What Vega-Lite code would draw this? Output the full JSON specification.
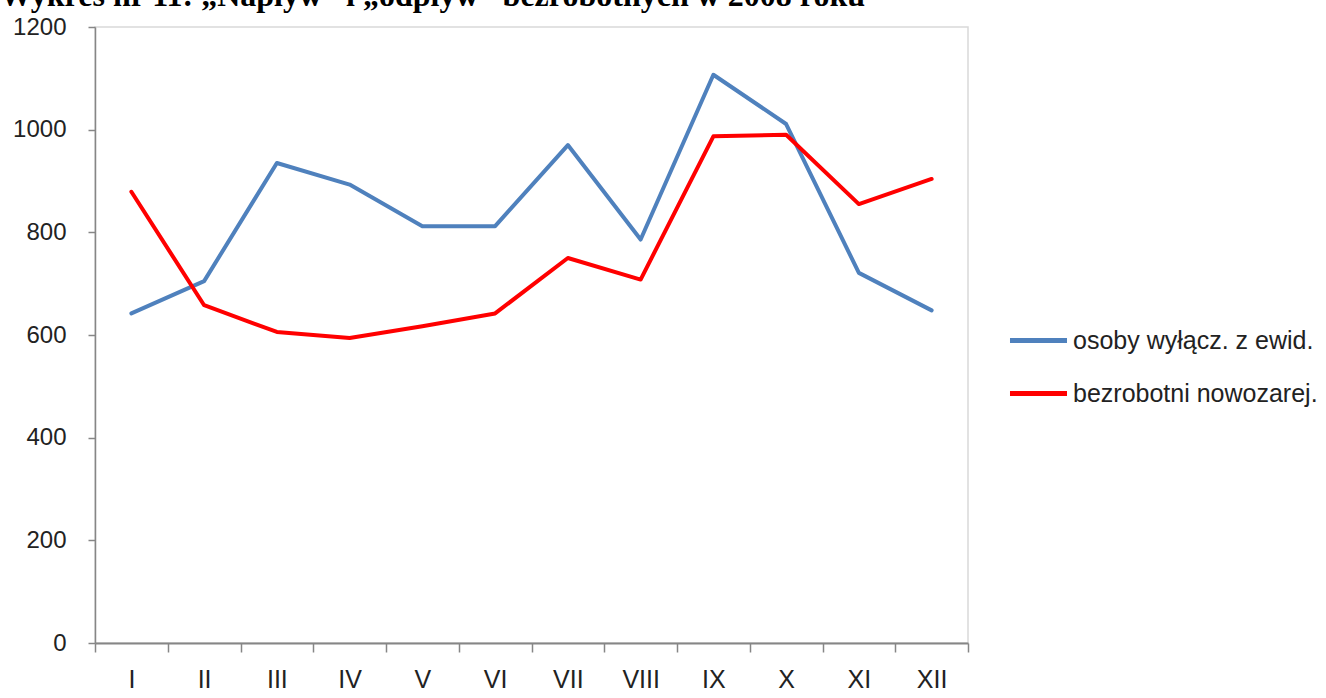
{
  "$schema": "https://vega.github.io/schema/vega-lite/v6.json",
  "autosize": {"type": "none"},
  "width": 873,
  "height": 616,
  "padding": {"left": 95, "top": 27, "right": 358, "bottom": 55},
  "background": "white",
  "title": {
    "text": "Wykres nr 11: „Napływ” i „odpływ” bezrobotnych w 2008 roku",
    "anchor": "start",
    "frame": "group",
    "dx": -95,
    "offset": 0,
    "dy": 23,
    "baseline": "alphabetic",
    "font": "Liberation Serif",
    "fontSize": 32,
    "fontWeight": "bold",
    "color": "black"
  },
  "data": {
    "values": [
      {"miesiac": "I", "seria": "osoby wyłącz. z ewid.", "wartosc": 642},
      {"miesiac": "II", "seria": "osoby wyłącz. z ewid.", "wartosc": 705},
      {"miesiac": "III", "seria": "osoby wyłącz. z ewid.", "wartosc": 935},
      {"miesiac": "IV", "seria": "osoby wyłącz. z ewid.", "wartosc": 893},
      {"miesiac": "V", "seria": "osoby wyłącz. z ewid.", "wartosc": 812},
      {"miesiac": "VI", "seria": "osoby wyłącz. z ewid.", "wartosc": 812},
      {"miesiac": "VII", "seria": "osoby wyłącz. z ewid.", "wartosc": 970},
      {"miesiac": "VIII", "seria": "osoby wyłącz. z ewid.", "wartosc": 786},
      {"miesiac": "IX", "seria": "osoby wyłącz. z ewid.", "wartosc": 1107},
      {"miesiac": "X", "seria": "osoby wyłącz. z ewid.", "wartosc": 1011},
      {"miesiac": "XI", "seria": "osoby wyłącz. z ewid.", "wartosc": 721},
      {"miesiac": "XII", "seria": "osoby wyłącz. z ewid.", "wartosc": 648},
      {"miesiac": "I", "seria": "bezrobotni nowozarej.", "wartosc": 879},
      {"miesiac": "II", "seria": "bezrobotni nowozarej.", "wartosc": 658},
      {"miesiac": "III", "seria": "bezrobotni nowozarej.", "wartosc": 606},
      {"miesiac": "IV", "seria": "bezrobotni nowozarej.", "wartosc": 594},
      {"miesiac": "V", "seria": "bezrobotni nowozarej.", "wartosc": 617},
      {"miesiac": "VI", "seria": "bezrobotni nowozarej.", "wartosc": 642},
      {"miesiac": "VII", "seria": "bezrobotni nowozarej.", "wartosc": 750},
      {"miesiac": "VIII", "seria": "bezrobotni nowozarej.", "wartosc": 708},
      {"miesiac": "IX", "seria": "bezrobotni nowozarej.", "wartosc": 987},
      {"miesiac": "X", "seria": "bezrobotni nowozarej.", "wartosc": 990},
      {"miesiac": "XI", "seria": "bezrobotni nowozarej.", "wartosc": 855},
      {"miesiac": "XII", "seria": "bezrobotni nowozarej.", "wartosc": 904}
    ]
  },
  "mark": {"type": "line", "strokeWidth": 4, "strokeJoin": "round", "strokeCap": "round"},
  "encoding": {
    "x": {
      "field": "miesiac",
      "type": "ordinal",
      "sort": ["I", "II", "III", "IV", "V", "VI", "VII", "VIII", "IX", "X", "XI", "XII"],
      "bandPosition": 0.5,
      "scale": {"type": "band", "paddingInner": 0, "paddingOuter": 0},
      "axis": {
        "title": null,
        "labelAngle": 0,
        "tickBand": "extent",
        "tickExtra": true,
        "tickSize": 9,
        "tickColor": "#868686",
        "tickWidth": 1.5,
        "domainColor": "#868686",
        "domainWidth": 2,
        "labelFont": "Liberation Sans",
        "labelFontSize": 25,
        "labelColor": "#222222",
        "labelPadding": 15,
        "labelBaseline": "top"
      }
    },
    "y": {
      "field": "wartosc",
      "type": "quantitative",
      "scale": {"domain": [0, 1200], "nice": false},
      "axis": {
        "title": null,
        "values": [0, 200, 400, 600, 800, 1000, 1200],
        "format": "d",
        "grid": false,
        "tickSize": 7,
        "tickColor": "#868686",
        "tickWidth": 1.5,
        "domainColor": "#868686",
        "domainWidth": 1.5,
        "labelFont": "Liberation Sans",
        "labelFontSize": 24,
        "labelColor": "#222222",
        "labelPadding": 22
      }
    },
    "color": {
      "field": "seria",
      "type": "nominal",
      "scale": {
        "domain": ["osoby wyłącz. z ewid.", "bezrobotni nowozarej."],
        "range": ["#4F81BD", "#FF0000"]
      },
      "legend": {
        "title": null,
        "orient": "none",
        "legendX": 912,
        "legendY": 282,
        "symbolType": "stroke",
        "symbolSize": 3250,
        "symbolStrokeWidth": 5,
        "labelFont": "Liberation Sans",
        "labelFontSize": 25,
        "labelColor": "#222222",
        "labelOffset": 3,
        "rowPadding": 8,
        "labelLimit": 400
      }
    }
  },
  "config": {
    "view": {"stroke": "#D9D9D9", "strokeWidth": 1.5}
  }
}
